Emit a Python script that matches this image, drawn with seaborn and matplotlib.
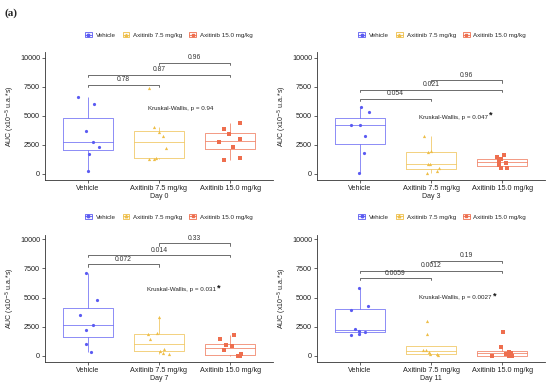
import numpy as np
import pandas as pd
import matplotlib
matplotlib.use("Agg")
import matplotlib.pyplot as plt
from matplotlib.patches import Patch
from matplotlib.lines import Line2D
from matplotlib.legend_handler import HandlerTuple
from matplotlib.colors import to_rgba
import seaborn as sns

# ---------------- data ----------------
groups = ["Vehicle", "Axitinib 7.5 mg/kg", "Axitinib 15.0 mg/kg"]
days = ["Day 0", "Day 3", "Day 7", "Day 11"]

day0_vehicle = [6580, 6010, 3650, 2760, 2360, 1700, 230]
day0_axi75 = [7390, 4050, 3590, 3300, 2240, 1400, 1290, 1270]
day0_axi150 = [4400, 3820, 3420, 2990, 2760, 2360, 1410, 1210]

day3_vehicle = [5720, 5340, 4220, 4170, 3300, 1810, 90]
day3_axi75 = [3300, 1980, 1900, 840, 840, 520, 260, 110]
day3_axi150 = [1640, 1440, 1270, 1150, 950, 780, 490, 490]

day7_vehicle = [7070, 4760, 3500, 2620, 2190, 1030, 310]
day7_axi75 = [3330, 1990, 1850, 1420, 600, 450, 230, 140]
day7_axi150 = [1770, 1450, 900, 830, 510, 140, 30, 30]

day11_vehicle = [5790, 4300, 3920, 2300, 2180, 2060, 1920, 1770]
day11_axi75 = [2960, 1900, 510, 490, 320, 170, 170, 110]
day11_axi150 = [2080, 740, 340, 260, 200, 40, 20, 0]

# pairwise p-values (Vehicle vs 7.5, Vehicle vs 15.0, 7.5 vs 15.0)
pairs = [(0, 1), (0, 2), (1, 2)]
day0_p = ["0.78", "0.87", "0.96"]
day3_p = ["0.054", "0.021", "0.96"]
day7_p = ["0.072", "0.014", "0.33"]
day11_p = ["0.0059", "0.0012", "0.19"]
day0_bracket_y = [7670, 8530, 9540]
day3_bracket_y = [6470, 7240, 8045]
day7_bracket_y = [7860, 8660, 9660]
day11_bracket_y = [6670, 7320, 8150]

kw_texts = ["Kruskal-Wallis, p = 0.94", "Kruskal-Wallis, p = 0.047",
            "Kruskal-Wallis, p = 0.031", "Kruskal-Wallis, p = 0.0027"]
kw_star = [False, True, True, True]
kw_pos = [(1.30, 5660), (1.32, 4890), (1.32, 5670), (1.34, 5020)]

yticks = [0, 2500, 5000, 7500, 10000]

panels = [
    (day0_vehicle, day0_axi75, day0_axi150, day0_p, day0_bracket_y),
    (day3_vehicle, day3_axi75, day3_axi150, day3_p, day3_bracket_y),
    (day7_vehicle, day7_axi75, day7_axi150, day7_p, day7_bracket_y),
    (day11_vehicle, day11_axi75, day11_axi150, day11_p, day11_bracket_y),
]

# ---------------- style ----------------
sns.set_theme(style="ticks")
plt.rcParams["font.family"] = ["Liberation Sans", "DejaVu Sans"]

colors = ["#5B5BF2", "#EEBE48", "#EE6E4E"]
markers = ["o", "^", "s"]
palette = dict(zip(groups, colors))

fig = plt.figure(figsize=(5.5, 3.86), dpi=100)

axes_rects = [
    [0.0818, 0.5337, 0.4145, 0.3324],
    [0.5764, 0.5337, 0.4145, 0.3324],
    [0.0818, 0.0622, 0.4145, 0.3290],
    [0.5764, 0.0622, 0.4145, 0.3290],
]
legend_centers = [(0.307, 0.909), (0.804, 0.909), (0.307, 0.438), (0.804, 0.438)]

np.random.seed(7)

for i, (veh, a75, a150, pvals, by) in enumerate(panels):
    ax = fig.add_axes(axes_rects[i])
    vals = [veh, a75, a150]
    df = pd.DataFrame({
        "group": np.concatenate([[g] * len(v) for g, v in zip(groups, vals)]),
        "AUC": np.concatenate([np.asarray(v, float) for v in vals]),
    })
    sns.boxplot(data=df, x="group", y="AUC", hue="group", order=groups,
                hue_order=groups, palette=palette, fill=False, width=0.7,
                showfliers=False, showcaps=False, linewidth=0.7, ax=ax,
                legend=False)
    for patch, c in zip(ax.patches, colors):
        patch.set_facecolor(to_rgba(c, 0.05))
        patch.set_edgecolor(to_rgba(c, 0.7))
    for line in ax.lines:
        c = line.get_color()
        line.set_color(to_rgba(c, 0.7))
    for g, c, m in zip(groups, colors, markers):
        sub = df[df["group"] == g]
        sns.stripplot(data=sub, x="group", y="AUC", order=groups, color=c,
                      marker=m, size=2.3, jitter=0.16, linewidth=0, ax=ax)

    # pairwise brackets
    tip = 200
    for (a, b), p, yv in zip(pairs, pvals, by):
        ax.plot([a, a, b, b], [yv - tip, yv, yv, yv - tip], color="#555555",
                lw=0.6, clip_on=False)
        ax.text((a + b) / 2, yv + 120, p, ha="center", va="bottom",
                fontsize=4.9, color="#333333")

    # Kruskal-Wallis
    kx, ky = kw_pos[i]
    t = ax.text(kx, ky, kw_texts[i], ha="center", va="center", fontsize=4.5,
                color="#222222")
    if kw_star[i]:
        ax.annotate("*", xy=(1.0, 0.85), xycoords=t, xytext=(0.8, 0),
                    textcoords="offset points", ha="left", va="center",
                    fontsize=6.5, fontweight="bold", color="#111111")

    ax.set_xlim(-0.6, 2.6)
    ax.set_ylim(-515, 10500 if i < 2 else 10370)
    ax.set_yticks(yticks)
    ax.set_yticklabels([str(v) for v in yticks])
    ax.set_xlabel(days[i], fontsize=5, labelpad=1, color="#222222")
    ax.set_ylabel("AUC (x10$^{-5}$ u.a.*s)", fontsize=5, labelpad=2,
                  color="#222222")
    ax.tick_params(axis="both", labelsize=5.2, length=2, width=0.5,
                   pad=1.5, colors="#222222")
    for s in ["top", "right"]:
        ax.spines[s].set_visible(False)
    for s in ["left", "bottom"]:
        ax.spines[s].set_linewidth(0.6)
        ax.spines[s].set_color("#333333")

    handles = []
    for c, m in zip(colors, markers):
        handles.append((Patch(facecolor=to_rgba(c, 0.05), edgecolor=c, lw=0.6),
                        Line2D([], [], color=c, marker=m, ms=1.8, lw=0.6)))
    fig.legend(handles, groups, loc="center", bbox_to_anchor=legend_centers[i],
               ncol=3, frameon=False, fontsize=4.5, handlelength=1.1,
               handleheight=0.9, handletextpad=0.6, columnspacing=1.1,
               handler_map={tuple: HandlerTuple(ndivide=1, pad=0)})

fig.text(0.008, 0.966, "(a)", fontsize=8, fontweight="bold",
         family=["Liberation Serif", "DejaVu Serif"], va="center", ha="left")

fig.savefig("out.png", dpi=100)
